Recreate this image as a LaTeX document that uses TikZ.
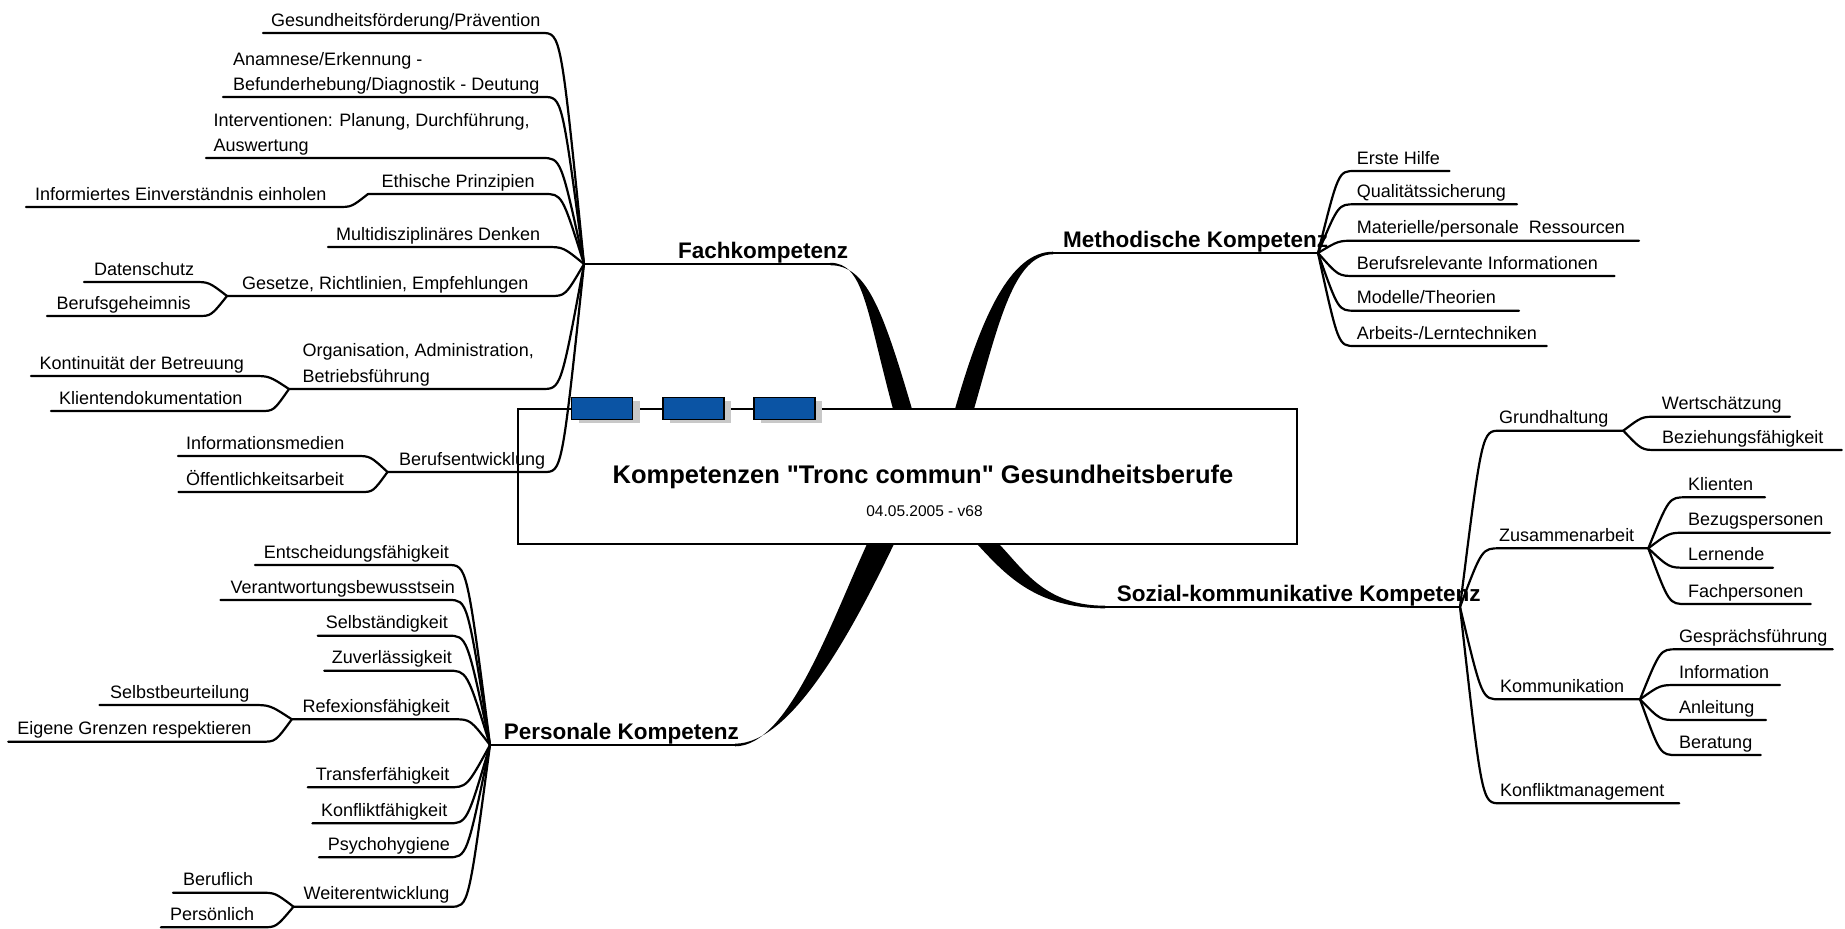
\documentclass[tikz,border=0pt]{standalone}
\usepackage{fontspec}
\setmainfont{Liberation Sans}
\newfontfamily\titlefont{Liberation Sans}
\usetikzlibrary{calc}
\definecolor{mmblue}{RGB}{11,84,164}
\definecolor{mmshadow}{RGB}{200,200,200}
% left-side leaf: name, text x, line x1, line x2, line y, junction, text
\newcommand\mmleafL[7]{%
  \coordinate (#1L) at (#3,#5);
  \coordinate (#1R) at (#4,#5);
  \node[leaf] (#1) at (#2,#5-7) {#7};
  \draw[uline] (#1L) -- (#1R) .. controls ($(#1R)!0.45!(#6|-#1R)$) .. (#6);
}
% right-side leaf
\newcommand\mmleafR[7]{%
  \coordinate (#1L) at (#3,#5);
  \coordinate (#1R) at (#4,#5);
  \node[leaf] (#1) at (#2,#5-7) {#7};
  \draw[uline] (#1R) -- (#1L) .. controls ($(#1L)!0.45!(#6|-#1L)$) .. (#6);
}
\begin{document}
\begin{tikzpicture}[x=1pt,y=-1pt,
  leaf/.style={font=\fontsize{18}{22}\selectfont, inner sep=0pt, anchor=base west},
  branchlabel/.style={font=\fontsize{22.5}{27}\selectfont\bfseries, inner sep=0pt, anchor=base west},
  uline/.style={line width=2.2pt, line cap=round, line join=round},
  trunk/.style={line width=2.6pt},
  bluebox/.style={draw=black, line width=1.5pt, fill=mmblue, minimum width=61pt, minimum height=22pt, inner sep=0pt},
  shadowbox/.style={fill=mmshadow, minimum width=61pt, minimum height=22pt, inner sep=0pt},
]
\useasboundingbox (0,0) rectangle (1845,929);

% junctions
\coordinate (fachJ) at (584,264);
\coordinate (methJ) at (1318,253);
\coordinate (sozJ) at (1460,607);
\coordinate (persJ) at (490,745);

% central box
\node[draw, line width=2pt, minimum width=779pt, minimum height=135pt, inner sep=0pt] (box) at (907.5,476.5) {};
\node[font=\titlefont\fontsize{25.5}{30}\selectfont\bfseries, inner sep=0pt, anchor=base] (title) at (923,483) {Kompetenzen "Tronc commun" Gesundheitsberufe};
\node[font=\fontsize{15.5}{18}\selectfont, inner sep=0pt, anchor=base] (date) at (924.5,516) {04.05.2005 - v68};

% blue markers
\node[shadowbox] (s1) at (609.2,411.8) {};
\node[shadowbox] (s2) at (700.7,411.8) {};
\node[shadowbox] (s3) at (791.7,411.8) {};
\node[bluebox] (b1) at (602.2,408.3) {};
\node[bluebox] (b2) at (693.7,408.3) {};
\node[bluebox] (b3) at (784.7,408.3) {};

% trunks
\coordinate (fachA) at (830,264);
\draw[trunk] (fachJ) -- (fachA);
\fill (830,262.8) .. controls (864,262.8) and (866,309) .. (893,409) -- (912,409) .. controls (882,307) and (866,265.2) .. (830,265.2) -- cycle;
\node[branchlabel] (fach) at (678,258) {Fachkompetenz};

\coordinate (methA) at (1053,253);
\draw[trunk] (methA) -- (methJ);
\fill (955,409) .. controls (981,318) and (1010,251.7) .. (1053,251.7) -- (1053,254.3) .. controls (1014,254.3) and (999,322) .. (974,409) -- cycle;
\node[branchlabel] (meth) at (1063,247) {Methodische Kompetenz};

\coordinate (sozA) at (1105,607);
\draw[trunk] (sozA) -- (sozJ);
\fill (977,544) .. controls (1005,574) and (1035,608.3) .. (1105,608.3) -- (1105,605.7) .. controls (1045,605.7) and (1024,570) .. (999,544) -- cycle;
\node[branchlabel] (soz) at (1116.7,601.7) {Sozial-kommunikative Kompetenz};

\coordinate (persA) at (735,745);
\draw[trunk] (persJ) -- (persA);
\fill (867,544) .. controls (830,625) and (788,746.3) .. (735,746.3) -- (735,743.7) .. controls (793,743.7) and (855,625) .. (894,544) -- cycle;
\node[branchlabel] (pers) at (503.6,739.3) {Personale Kompetenz};

% Fachkompetenz
\mmleafL{ges}{271}{263}{542}{33}{fachJ}{Gesundheitsförderung/Prävention}
\mmleafL{ana}{233}{223}{544}{97}{fachJ}{Befunderhebung/Diagnostik - Deutung}
\node[leaf] (anaA) at (233,65) {Anamnese/Erkennung -};
\mmleafL{int}{213.5}{206}{542}{158}{fachJ}{Auswertung}
\node[leaf] (intA) at (213.5,126) {Interventionen: Planung, Durchführung,};
\mmleafL{eth}{381.5}{368}{544}{194}{fachJ}{Ethische Prinzipien}
\mmleafL{inf}{35}{26}{338}{207}{ethL}{Informiertes Einverständnis einholen}
\mmleafL{mul}{336}{328}{546}{247}{fachJ}{Multidisziplinäres Denken}
\mmleafL{gese}{242}{227}{550}{296}{fachJ}{Gesetze, Richtlinien, Empfehlungen}
\mmleafL{dat}{94}{84}{194}{282}{geseL}{Datenschutz}
\mmleafL{bgh}{56.5}{47}{198}{316}{geseL}{Berufsgeheimnis}
\mmleafL{org}{302.5}{289}{542}{389}{fachJ}{Betriebsführung}
\node[leaf] (orgA) at (302.5,356) {Organisation, Administration,};
\mmleafL{kon}{39.5}{31}{253}{376}{orgL}{Kontinuität der Betreuung}
\mmleafL{kli}{59}{51}{261}{411}{orgL}{Klientendokumentation}
\mmleafL{bent}{399}{387.5}{544}{472}{fachJ}{Berufsentwicklung}
\mmleafL{ime}{186}{178}{356}{456}{bentL}{Informationsmedien}
\mmleafL{oef}{186}{178.5}{361}{492}{bentL}{Öffentlichkeitsarbeit}

% Methodische Kompetenz
\mmleafR{eh}{1356.7}{1355}{1449.5}{171}{methJ}{Erste Hilfe}
\mmleafR{qs}{1356.7}{1355}{1517}{204.3}{methJ}{Qualitätssicherung}
\mmleafR{mpr}{1356.7}{1355}{1639}{240.7}{methJ}{Materielle/personale\ \ Ressourcen}
\mmleafR{bri}{1356.7}{1355}{1614.6}{276}{methJ}{Berufsrelevante Informationen}
\mmleafR{mt}{1356.7}{1355}{1519}{310.7}{methJ}{Modelle/Theorien}
\mmleafR{alt}{1356.7}{1355}{1546.8}{346}{methJ}{Arbeits-/Lerntechniken}

% Sozial-kommunikative Kompetenz
\mmleafR{grund}{1499}{1500}{1623.3}{430.7}{sozJ}{Grundhaltung}
\mmleafR{wert}{1661.7}{1656.7}{1790}{416.7}{grundR}{Wertschätzung}
\mmleafR{bez}{1662}{1656.7}{1841.7}{450}{grundR}{Beziehungsfähigkeit}
\mmleafR{zus}{1499}{1500}{1648.3}{548.3}{sozJ}{Zusammenarbeit}
\mmleafR{kl}{1688}{1686}{1765}{497.3}{zusR}{Klienten}
\mmleafR{bzp}{1688}{1686}{1830}{532.7}{zusR}{Bezugspersonen}
\mmleafR{ler}{1688}{1686}{1773}{567.7}{zusR}{Lernende}
\mmleafR{fp}{1688}{1686}{1810.7}{604}{zusR}{Fachpersonen}
\mmleafR{kom}{1500}{1500}{1640}{699.3}{sozJ}{Kommunikation}
\mmleafR{gf}{1679}{1676.7}{1832.7}{649.3}{komR}{Gesprächsführung}
\mmleafR{infz}{1679}{1676.7}{1780}{685}{komR}{Information}
\mmleafR{anl}{1679}{1676.7}{1766}{720}{komR}{Anleitung}
\mmleafR{bera}{1679}{1676.7}{1760.7}{755}{komR}{Beratung}
\mmleafR{kfm}{1500}{1500}{1679.3}{803.3}{sozJ}{Konfliktmanagement}

% Personale Kompetenz
\mmleafL{ent}{263.6}{255}{448}{565}{persJ}{Entscheidungsfähigkeit}
\mmleafL{ver}{230.5}{220.5}{449}{600}{persJ}{Verantwortungsbewusstsein}
\mmleafL{sel}{325.6}{317.7}{448}{635.7}{persJ}{Selbständigkeit}
\mmleafL{zuv}{331.6}{324.3}{448}{670.7}{persJ}{Zuverlässigkeit}
\mmleafL{refl}{302.4}{291.8}{454}{719.3}{persJ}{Refexionsfähigkeit}
\mmleafL{sbu}{110}{99.5}{252}{705}{reflL}{Selbstbeurteilung}
\mmleafL{egr}{17.2}{8.3}{262}{741.7}{reflL}{Eigene Grenzen respektieren}
\mmleafL{tra}{315.7}{307.7}{448}{787.3}{persJ}{Transferfähigkeit}
\mmleafL{kof}{321}{312.4}{448}{823.3}{persJ}{Konfliktfähigkeit}
\mmleafL{psy}{327.6}{319}{448}{857.3}{persJ}{Psychohygiene}
\mmleafL{wei}{303.4}{293.5}{451}{906.7}{persJ}{Weiterentwicklung}
\mmleafL{bfl}{183}{173}{260}{892.7}{weiL}{Beruflich}
\mmleafL{prs}{169.8}{160.8}{262}{927.3}{weiL}{Persönlich}
\end{tikzpicture}
\end{document}
